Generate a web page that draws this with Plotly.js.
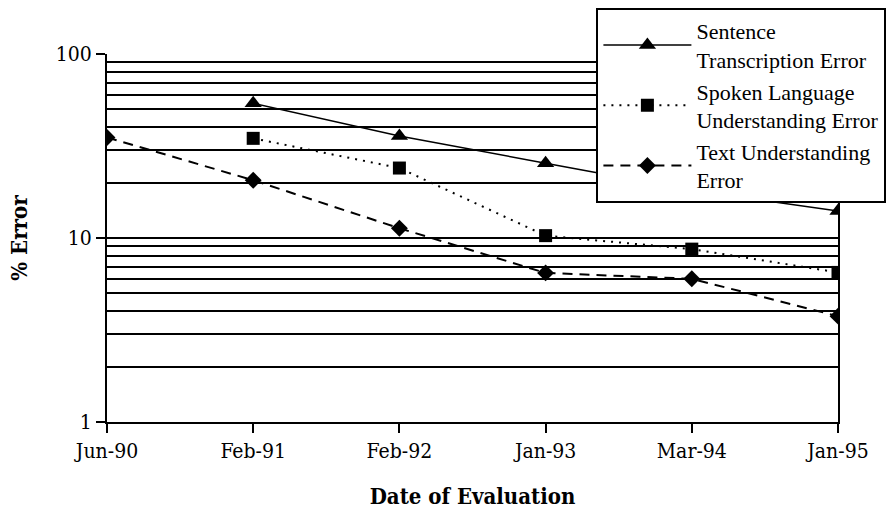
<!DOCTYPE html>
<html>
<head>
<meta charset="utf-8">
<script src="https://cdn.plot.ly/plotly-3.0.1.min.js"></script>
<style>html,body{margin:0;padding:0;background:#fff;}#chart{width:896px;height:512px;}</style>
</head>
<body>
<div id="chart"></div>
<script>
const dates = ["Jun-90", "Feb-91", "Feb-92", "Jan-93", "Mar-94", "Jan-95"];
const sentenceDates = ["Feb-91", "Feb-92", "Jan-93", "Mar-94", "Jan-95"];
const sentenceError = [54, 35.8, 25.5, 18.2, 14.0];
const spokenDates = ["Feb-91", "Feb-92", "Jan-93", "Mar-94", "Jan-95"];
const spokenError = [34.8, 24.0, 10.3, 8.7, 6.5];
const textDates = ["Jun-90", "Feb-91", "Feb-92", "Jan-93", "Mar-94", "Jan-95"];
const textError = [35.2, 20.6, 11.3, 6.46, 6.0, 3.76];
const seriesNames = ["Sentence<br>Transcription Error", "Spoken Language<br>Understanding Error", "Text Understanding<br>Error"];

const FONT = "DejaVu Serif Condensed, DejaVu Serif, serif";
const LEGEND_FONT = "Liberation Serif, Times New Roman, serif";

const traces = [
  {x: sentenceDates, y: sentenceError, name: seriesNames[0], type: "scatter", mode: "lines+markers",
   line: {color: "#000", width: 1.5, dash: "solid"},
   marker: {symbol: "triangle-up", size: 15, color: "#000"}},
  {x: spokenDates, y: spokenError, name: seriesNames[1], type: "scatter", mode: "lines+markers",
   line: {color: "#000", width: 2, dash: "2px,6px"},
   marker: {symbol: "square", size: 13, color: "#000"}},
  {x: textDates, y: textError, name: seriesNames[2], type: "scatter", mode: "lines+markers",
   line: {color: "#000", width: 2, dash: "10px,7px"},
   marker: {symbol: "diamond", size: 13, color: "#000"}}
];

const layout = {
  width: 896, height: 512,
  margin: {l: 107, r: 58, t: 54, b: 90, pad: 0, autoexpand: false},
  paper_bgcolor: "#fff", plot_bgcolor: "#fff",
  font: {family: FONT, size: 21, color: "#000"},
  showlegend: true,
  legend: {
    x: 0.6695, y: 1.125, xanchor: "left", yanchor: "top",
    bgcolor: "#fff", bordercolor: "#000", borderwidth: 2,
    itemwidth: 88, tracegroupgap: 0,
    font: {family: LEGEND_FONT, size: 22, color: "#000"}
  },
  xaxis: {
    type: "category", categoryorder: "array", categoryarray: dates,
    range: [0, dates.length - 1],
    showgrid: false, zeroline: false,
    showline: true, linecolor: "#000", linewidth: 2,
    ticks: "outside", ticklen: 9, tickwidth: 2, tickcolor: "#000",
    tickfont: {family: FONT, size: 21, color: "#000"},
    title: {text: "<b>Date of Evaluation</b>", font: {family: FONT, size: 22, color: "#000"}, standoff: 26}
  },
  xaxis2: {
    type: "linear", overlaying: "x", anchor: "y", range: [0, dates.length - 1],
    dtick: 1, tick0: 0, ticks: "inside", ticklen: 8, tickwidth: 2, tickcolor: "#000",
    showticklabels: false, showgrid: false, zeroline: false, showline: false
  },
  yaxis: {
    type: "log", range: [0, 2], dtick: 1,
    showgrid: true, gridcolor: "#000", gridwidth: 2,
    zeroline: false, showline: true, linecolor: "#000", linewidth: 2, mirror: true,
    ticks: "outside", ticklen: 9, tickwidth: 2, tickcolor: "#000",
    tickfont: {family: FONT, size: 21, color: "#000"},
    minor: {dtick: "D1", showgrid: true, gridcolor: "#000", gridwidth: 2, ticks: ""},
    title: {text: "<b>% Error</b>", font: {family: FONT, size: 22, color: "#000"}, standoff: 22}
  }
};

Plotly.newPlot("chart", traces, layout, {displayModeBar: false, staticPlot: true});
</script>
</body>
</html>
